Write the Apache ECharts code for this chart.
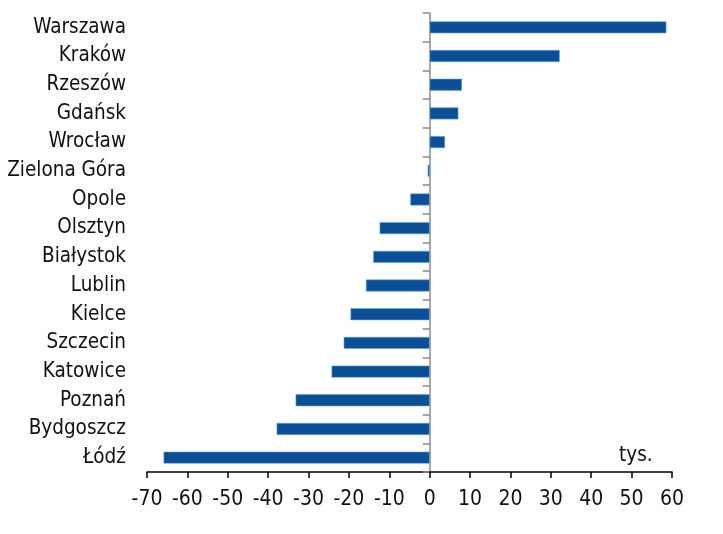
<!DOCTYPE html>
<html><head><meta charset="utf-8">
<script src="https://cdn.jsdelivr.net/npm/echarts@6/dist/echarts.min.js"></script>
<style>html,body{margin:0;padding:0;background:#fff}#c{width:723px;height:534px}</style>
</head><body><div id="c"></div>
<script>
const categories = ['Warszawa','Kraków','Rzeszów','Gdańsk','Wrocław','Zielona Góra','Opole','Olsztyn','Białystok','Lublin','Kielce','Szczecin','Katowice','Poznań','Bydgoszcz','Łódź'];
const values = [58.6, 32.2, 8.0, 7.1, 3.8, -0.5, -4.8, -12.4, -14.0, -15.8, -19.6, -21.3, -24.3, -33.2, -37.9, -65.9];
const xTicks = [-70, 60, 10];
const unitLabel = 'tys.';

const FONT = 'DejaVu Sans Condensed';
const chart = echarts.init(document.getElementById('c'), null, {renderer:'canvas'});
chart.setOption({
  animation: false,
  textStyle: {fontFamily: FONT},
  grid: {left: 147, right: 51, top: 13, bottom: 62, containLabel: false},
  xAxis: {
    type: 'value', min: xTicks[0], max: xTicks[1], interval: xTicks[2],
    splitLine: {show: false},
    axisLine: {show: true, onZero: false, lineStyle: {color: '#000', width: 1.5}},
    axisTick: {show: true, length: 6, lineStyle: {color: '#000', width: 1.5}},
    axisLabel: {fontFamily: FONT, fontSize: 21, color: '#111', margin: 17}
  },
  yAxis: [{
    type: 'category', data: categories, inverse: true, position: 'left',
    axisLine: {show: false, onZero: false},
    axisTick: {show: false},
    axisLabel: {fontFamily: FONT, fontSize: 20.5, color: '#111', margin: 21}
  },{
    type: 'category', data: categories, inverse: true, position: 'left',
    axisLine: {show: true, onZero: true, lineStyle: {color: '#8a8a8a', width: 1.5}},
    axisTick: {show: true, length: 7, lineStyle: {color: '#8a8a8a', width: 1.5}},
    axisLabel: {show: false}
  }],
  series: [{
    type: 'bar', data: values, yAxisIndex: 0, barWidth: 12,
    itemStyle: {color: '#0b4f97', borderColor: '#6aa6dc', borderWidth: 0.6}
  }],
  graphic: [{
    type: 'text', left: 619, top: 445,
    style: {text: unitLabel, font: '20.5px "' + FONT + '"', fill: '#111'}
  }]
});
</script></body></html>
